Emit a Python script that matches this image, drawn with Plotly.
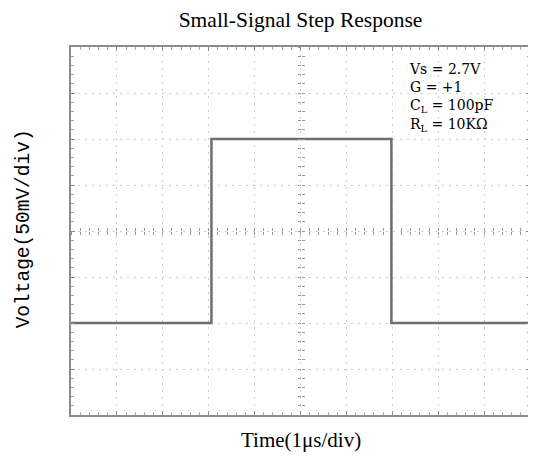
import plotly.graph_objects as go

# Data (in oscilloscope divisions)
time_div = [0, 3.06, 6.98, 10]
volt_div = [-2, 2, -2, -2]

info_lines = ["Vs = 2.7V", "G = +1", "C<sub>L</sub> = 100pF", "R<sub>L</sub> = 10KΩ"]

title_text = "Small-Signal Step Response"
x_title = "Time(1μs/div)"
y_title = "Voltage(50mV/div)"

W, H = 528, 456  # page adds an 8px body margin

fig = go.Figure()
fig.add_trace(go.Scatter(x=time_div, y=volt_div, mode="lines", line_shape="hv",
                         line=dict(color="#6e6e6e", width=2.5), showlegend=False,
                         hoverinfo="skip"))
# helper traces so that the centre-line tick axes are drawn
for xa, ya in [("x2", "y"), ("x3", "y"), ("x", "y2"), ("x", "y3")]:
    fig.add_trace(go.Scatter(x=[None], y=[None], xaxis=xa, yaxis=ya, showlegend=False,
                             hoverinfo="skip"))

border = "#8c8c8c"
grid = dict(showgrid=True, gridcolor="#cccccc", griddash="2px,5px", gridwidth=1,
            showline=True, linecolor=border, linewidth=2, mirror="ticks",
            ticks="inside", ticklen=4, tickcolor=border, tickwidth=1,
            minor=dict(ticks="inside", dtick=0.2, ticklen=3, tickcolor="#a8a8a8", showgrid=False),
            showticklabels=False, zeroline=False)

centre = dict(anchor="free", position=0.5, showgrid=False, showline=False,
              ticklen=3, tickcolor="#999999", tickwidth=1, showticklabels=False,
              zeroline=False)

fig.update_layout(
    width=W, height=H,
    margin=dict(l=63, r=4, t=39, b=49),
    paper_bgcolor="white", plot_bgcolor="white",
    title=dict(text=title_text, x=0.5, xref="paper", xanchor="center",
               y=1 - 11.5 / H, yanchor="middle",
               font=dict(family="Liberation Serif", size=21.5, color="black")),
    xaxis=dict(range=[0, 10], dtick=1, tick0=0, **grid),
    yaxis=dict(range=[-4, 4], dtick=1, tick0=0, **grid),
    xaxis2=dict(overlaying="x", range=[0, 10], dtick=1, ticks="inside",
                minor=dict(ticks="inside", dtick=0.2, ticklen=3, tickcolor="#999999"), **centre),
    xaxis3=dict(overlaying="x", range=[0, 10], dtick=1, ticks="outside",
                minor=dict(ticks="outside", dtick=0.2, ticklen=3, tickcolor="#999999"), **centre),
    yaxis2=dict(overlaying="y", range=[-4, 4], dtick=1, ticks="inside",
                minor=dict(ticks="inside", dtick=0.2, ticklen=3, tickcolor="#999999"), **centre),
    yaxis3=dict(overlaying="y", range=[-4, 4], dtick=1, ticks="outside",
                minor=dict(ticks="outside", dtick=0.2, ticklen=3, tickcolor="#999999"), **centre),
)

# white box behind the info text
fig.add_shape(type="rect", xref="paper", yref="paper", x0=0.725, x1=1.0, y0=0.755, y1=0.992,
              fillcolor="white", line=dict(width=0), layer="between")

fig.add_annotation(text="<br>".join(info_lines), xref="paper", yref="paper",
                   x=0.733, y=0.968, xanchor="left", yanchor="top", align="left",
                   showarrow=False,
                   font=dict(family="DejaVu Serif", size=14, color="black"))

fig.add_annotation(text=x_title, xref="paper", yref="paper", x=0.5, y=-0.068,
                   xanchor="center", yanchor="middle", showarrow=False,
                   font=dict(family="Liberation Serif", size=21, color="black"))
fig.add_annotation(text=y_title, xref="paper", yref="paper", x=-0.102, y=0.505,
                   xanchor="center", yanchor="middle", showarrow=False, textangle=-90,
                   font=dict(family="Liberation Mono", size=19.5, color="black"))

fig.write_html("out.html")
